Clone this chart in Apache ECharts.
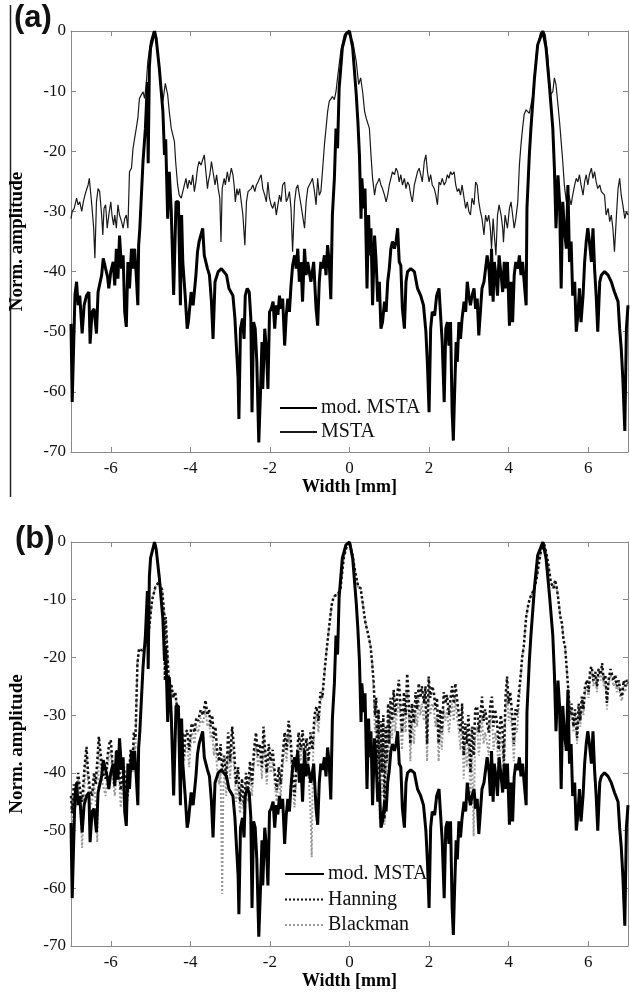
<!DOCTYPE html>
<html>
<head>
<meta charset="utf-8">
<script src="https://cdn.jsdelivr.net/npm/echarts@6/dist/echarts.min.js"></script>
<style>
  html, body { margin: 0; padding: 0; background: #fff; }
  #chart { width: 630px; height: 997px; }
</style>
</head>
<body>
<div id="chart"></div>
<script>
// ticks
const xTicks = [-6, -4, -2, 0, 2, 4, 6];
const yTicks = [-70, -60, -50, -40, -30, -20, -10, 0];

// mod. MSTA (same curve in both panels) [width mm, norm. amplitude dB]
const modMsta = [
  [-7.0,-48.7],[-6.97,-61.7],[-6.9,-43.9],[-6.86,-41.7],[-6.82,-45.6],[-6.78,-44],[-6.72,-50.3],[-6.67,-45.6],[-6.61,-44],[-6.55,-43.4],
  [-6.52,-52],[-6.47,-46.7],[-6.42,-46.2],[-6.36,-50.3],[-6.32,-43.4],[-6.23,-40.6],[-6.19,-37.8],[-6.13,-39.5],[-6.08,-40.9],[-6.05,-42.8],
  [-6.0,-40],[-5.94,-38.4],[-5.9,-42.3],[-5.86,-36.2],[-5.82,-41.2],[-5.78,-34],[-5.73,-39.5],[-5.69,-37.3],[-5.65,-46.7],[-5.61,-49.2],
  [-5.57,-38.4],[-5.53,-42.8],[-5.48,-36.2],[-5.44,-39.5],[-5.4,-36.2],[-5.36,-40.6],[-5.32,-45.6],[-5.3,-35.7],[-5.27,-32.8],[-5.19,-21.7],
  [-5.13,-16.2],[-5.08,-8.5],[-5.06,-22],[-5.03,-6],[-5.0,-2.8],[-4.9,0],[-4.86,-1.2],[-4.78,-6.2],[-4.69,-13.4],[-4.65,-20.6],
  [-4.62,-18],[-4.57,-31.2],[-4.53,-23.4],[-4.48,-30],[-4.42,-43.9],[-4.36,-28.4],[-4.3,-28.4],[-4.25,-45.6],[-4.22,-30.6],[-4.19,-38.4],
  [-4.13,-44],[-4.08,-49.5],[-4.05,-48.4],[-3.98,-43.4],[-3.93,-45.6],[-3.86,-40.6],[-3.82,-36.7],[-3.78,-35],[-3.69,-32.8],[-3.65,-37.3],
  [-3.57,-39.5],[-3.52,-40.6],[-3.47,-45],[-3.43,-51.2],[-3.38,-41.7],[-3.3,-40],[-3.22,-39.5],[-3.09,-40.6],[-3.03,-42.8],[-2.98,-43.4],
  [-2.93,-44],[-2.88,-47.8],[-2.84,-52.8],[-2.8,-57.8],[-2.78,-64.5],[-2.74,-49.5],[-2.69,-47.8],[-2.65,-51.2],[-2.62,-44],[-2.57,-42.8],
  [-2.52,-43.4],[-2.48,-47.8],[-2.45,-63.4],[-2.41,-48.4],[-2.37,-49.5],[-2.33,-55],[-2.28,-68.4],[-2.24,-60.6],[-2.2,-51.7],[-2.18,-59.5],
  [-2.13,-49.5],[-2.09,-52.8],[-2.05,-59.5],[-2.01,-46.7],[-1.97,-46.2],[-1.92,-45],[-1.88,-49.5],[-1.84,-45.6],[-1.8,-47.2],[-1.76,-44],
  [-1.72,-46.2],[-1.68,-44.5],[-1.63,-52.3],[-1.59,-47.3],[-1.55,-44.5],[-1.51,-46.7],[-1.47,-42.3],[-1.43,-39],[-1.38,-37.3],[-1.34,-39.5],
  [-1.3,-36.2],[-1.26,-41.7],[-1.22,-38.4],[-1.18,-45],[-1.13,-36.2],[-1.09,-40.6],[-1.05,-38.4],[-1.01,-38.4],[-0.97,-41.7],[-0.9,-38.4],
  [-0.84,-46.2],[-0.8,-49],[-0.76,-41.7],[-0.72,-38.4],[-0.68,-39.5],[-0.63,-37.3],[-0.59,-40.6],[-0.55,-35.6],[-0.51,-38.4],[-0.47,-44.6],
  [-0.43,-30.6],[-0.38,-24.5],[-0.34,-16.2],[-0.3,-19.5],[-0.26,-9.5],[-0.18,-2.8],[-0.09,-0.5],[0.0,0],[0.08,-2.8],[0.17,-10.6],
  [0.21,-15],[0.25,-20.6],[0.29,-31.2],[0.31,-24.5],[0.36,-29.5],[0.39,-26.2],[0.44,-42.8],[0.48,-30.6],[0.51,-37.3],[0.54,-32.8],
  [0.58,-45.6],[0.63,-34],[0.67,-38.4],[0.71,-45],[0.75,-41.7],[0.79,-49.5],[0.83,-48.4],[0.88,-45],[0.92,-46.7],[0.96,-41.7],
  [1.0,-39.5],[1.04,-36.2],[1.08,-35],[1.13,-36.2],[1.17,-35],[1.21,-32.8],[1.25,-38.4],[1.29,-39],[1.33,-46.2],[1.38,-49.5],
  [1.42,-41.7],[1.46,-40],[1.54,-39.5],[1.63,-40],[1.71,-42.8],[1.79,-44],[1.86,-45.6],[1.92,-50],[1.96,-55.6],[2.0,-63.4],
  [2.04,-49.5],[2.08,-46.7],[2.14,-47.3],[2.19,-44],[2.25,-42.8],[2.29,-47.3],[2.33,-51.7],[2.38,-61.7],[2.42,-49.5],[2.46,-48.4],
  [2.5,-52.3],[2.54,-48.4],[2.58,-63.4],[2.61,-68.1],[2.64,-60.6],[2.68,-51.7],[2.71,-55],[2.75,-48.4],[2.79,-51.2],[2.83,-47.8],
  [2.88,-45],[2.92,-46.7],[2.96,-41.7],[3.0,-44],[3.04,-45.6],[3.08,-44],[3.13,-42.8],[3.17,-46.2],[3.21,-44.5],[3.25,-50.6],
  [3.29,-46.7],[3.33,-42.8],[3.38,-41.7],[3.42,-39.5],[3.46,-37.3],[3.51,-40],[3.54,-44],[3.57,-36.2],[3.61,-45],[3.64,-38.4],
  [3.68,-40.6],[3.72,-44],[3.76,-37.3],[3.81,-40.6],[3.85,-43.4],[3.89,-38.4],[3.93,-42.8],[3.97,-38.4],[4.02,-49],[4.06,-41.7],
  [4.1,-48.4],[4.14,-40.6],[4.18,-38.4],[4.23,-39.5],[4.27,-37.3],[4.31,-40.6],[4.35,-38.4],[4.39,-41.7],[4.44,-45.6],[4.46,-29.5],
  [4.52,-20.6],[4.56,-16.2],[4.65,-7.8],[4.73,-2.3],[4.86,0],[4.94,-2.8],[5.03,-9.5],[5.11,-16.2],[5.15,-22.8],[5.19,-32.8],
  [5.24,-24],[5.28,-28.4],[5.32,-42.8],[5.36,-28.4],[5.4,-32.8],[5.45,-36.2],[5.49,-25.6],[5.53,-38.4],[5.57,-35],[5.61,-44],
  [5.66,-41.7],[5.7,-50],[5.74,-47.3],[5.78,-42.8],[5.82,-48.4],[5.87,-44],[5.91,-38.4],[5.95,-35],[5.99,-32.8],[6.03,-35],
  [6.08,-38.4],[6.12,-32.8],[6.16,-39.5],[6.2,-44],[6.24,-50],[6.29,-41.7],[6.33,-40.6],[6.41,-40],[6.5,-40.6],[6.58,-41.7],
  [6.66,-43.4],[6.75,-45],[6.79,-49.5],[6.83,-52.8],[6.87,-57.8],[6.92,-66.5],[6.96,-49.5],[7.0,-45.6]
];

// MSTA, panel (a)
const msta = [
  [-7.0,-31.2],[-6.97,-30],[-6.92,-29.5],[-6.86,-27.8],[-6.82,-28.9],[-6.78,-28.4],[-6.73,-30],[-6.69,-28.4],[-6.65,-27.3],[-6.61,-26.4],
  [-6.57,-25.6],[-6.54,-24.5],[-6.5,-27.3],[-6.47,-29.5],[-6.43,-32.8],[-6.4,-37.8],[-6.36,-28.4],[-6.32,-26.2],[-6.28,-26.7],[-6.23,-30.6],
  [-6.2,-33.9],[-6.17,-29.5],[-6.13,-28.9],[-6.09,-32.8],[-6.05,-30.6],[-6.0,-28.4],[-5.97,-30.6],[-5.93,-32.3],[-5.9,-30.6],[-5.86,-32.8],
  [-5.82,-28.9],[-5.78,-30.6],[-5.73,-31.7],[-5.69,-32.8],[-5.65,-31.2],[-5.61,-30.6],[-5.57,-32.8],[-5.53,-23.4],[-5.48,-22.8],[-5.44,-19.5],
  [-5.4,-17.8],[-5.36,-16.2],[-5.32,-14.5],[-5.28,-11.2],[-5.23,-10.9],[-5.19,-10.1],[-5.15,-11.2],[-5.11,-8.9],[-5.07,-5.1],[-5.0,-1.7],
  [-4.93,-0.1],[-4.88,-0.6],[-4.82,-3.9],[-4.75,-8.4],[-4.69,-11.7],[-4.63,-8.7],[-4.57,-10.6],[-4.53,-13.4],[-4.48,-16.2],[-4.44,-17.3],
  [-4.4,-18.4],[-4.37,-21.7],[-4.32,-25.6],[-4.28,-27.3],[-4.23,-27.8],[-4.19,-26.7],[-4.15,-25.6],[-4.11,-24.5],[-4.07,-26.2],[-4.03,-24.8],
  [-3.98,-25.6],[-3.94,-23.9],[-3.9,-26.7],[-3.86,-25.1],[-3.82,-22.8],[-3.78,-21.7],[-3.73,-22.3],[-3.69,-21.4],[-3.65,-20.6],[-3.61,-23.4],
  [-3.57,-26.2],[-3.55,-25.1],[-3.51,-23.9],[-3.47,-21.7],[-3.43,-23.4],[-3.38,-25.6],[-3.34,-23.9],[-3.3,-26.2],[-3.26,-27.8],[-3.23,-35.1],
  [-3.2,-26.2],[-3.15,-24.5],[-3.12,-25.6],[-3.07,-23.4],[-3.03,-25.1],[-3.0,-23.9],[-2.97,-22.8],[-2.93,-23.9],[-2.9,-25.6],[-2.87,-28.4],
  [-2.83,-26.2],[-2.8,-27.3],[-2.76,-26.2],[-2.72,-28.4],[-2.68,-30.6],[-2.63,-35.6],[-2.59,-28.4],[-2.55,-26.7],[-2.51,-26.7],[-2.47,-26.2],
  [-2.43,-25.6],[-2.38,-26.7],[-2.34,-25.6],[-2.3,-25.1],[-2.26,-24.5],[-2.22,-23.9],[-2.18,-26.2],[-2.13,-27.3],[-2.09,-28.4],[-2.05,-25.1],
  [-2.01,-27.8],[-1.97,-28.9],[-1.93,-29.5],[-1.88,-28.4],[-1.84,-30.6],[-1.8,-28.9],[-1.76,-27.3],[-1.72,-28.4],[-1.68,-25.6],[-1.63,-25.1],
  [-1.59,-28.4],[-1.55,-27.8],[-1.51,-26.7],[-1.47,-29.5],[-1.43,-36.7],[-1.38,-28.4],[-1.34,-26.2],[-1.3,-25.6],[-1.26,-27.3],[-1.22,-28.9],
  [-1.18,-30.6],[-1.13,-32.8],[-1.09,-28.4],[-1.05,-26.2],[-1.01,-25.6],[-0.97,-25.1],[-0.93,-24.5],[-0.88,-26.7],[-0.84,-28.9],[-0.8,-24.5],
  [-0.76,-27.3],[-0.72,-26.7],[-0.68,-23.4],[-0.63,-18.9],[-0.59,-16.2],[-0.55,-13.4],[-0.51,-11.7],[-0.47,-11.4],[-0.43,-10.9],[-0.38,-11.4],
  [-0.34,-10.1],[-0.3,-7.8],[-0.22,-3.4],[-0.13,-0.6],[-0.05,-0.1],[0.0,0],[0.08,-1.7],[0.17,-5.1],[0.23,-8.9],[0.28,-7.8],
  [0.33,-10.1],[0.38,-13.4],[0.42,-14.5],[0.46,-14.8],[0.5,-16.2],[0.54,-20.6],[0.58,-24.5],[0.63,-27.3],[0.67,-25.6],[0.71,-25.1],
  [0.75,-24.5],[0.79,-25.6],[0.83,-26.2],[0.88,-27.3],[0.92,-28.4],[0.96,-27.3],[1.0,-25.6],[1.04,-24.5],[1.08,-23.4],[1.13,-23.9],
  [1.17,-22.8],[1.21,-23.4],[1.25,-25.1],[1.29,-23.9],[1.33,-25.6],[1.38,-24.5],[1.42,-26.2],[1.46,-25.1],[1.5,-25.6],[1.54,-27.3],
  [1.58,-28.4],[1.63,-25.6],[1.67,-24.5],[1.71,-23.4],[1.75,-22.8],[1.79,-23.9],[1.83,-25.1],[1.88,-21.7],[1.92,-20.6],[1.96,-23.4],
  [2.0,-25.1],[2.04,-23.9],[2.08,-25.6],[2.13,-26.2],[2.17,-27.3],[2.21,-28.9],[2.25,-25.1],[2.29,-25.6],[2.33,-24.5],[2.38,-25.6],
  [2.42,-25.1],[2.46,-23.9],[2.5,-24.5],[2.54,-23.4],[2.58,-23.9],[2.63,-23.4],[2.67,-25.6],[2.71,-26.7],[2.75,-26.2],[2.79,-27.3],
  [2.83,-25.6],[2.88,-27.8],[2.92,-29.5],[2.96,-28.4],[3.0,-30],[3.04,-30.6],[3.08,-27.8],[3.13,-28.9],[3.17,-25.1],[3.21,-25.6],
  [3.25,-28.4],[3.29,-30],[3.33,-31.2],[3.38,-33.9],[3.42,-30.6],[3.46,-31.7],[3.5,-30.6],[3.54,-32.8],[3.57,-36.2],[3.61,-31.2],
  [3.64,-33.9],[3.68,-37.3],[3.72,-30.6],[3.76,-28.9],[3.81,-30.6],[3.85,-32.8],[3.87,-35.1],[3.91,-30.6],[3.94,-31.7],[3.97,-32.8],
  [4.02,-29.5],[4.06,-28.4],[4.1,-30.6],[4.14,-32.8],[4.18,-31.2],[4.23,-28.4],[4.27,-22.3],[4.31,-18.9],[4.35,-16.2],[4.39,-13.9],
  [4.44,-13.1],[4.48,-12.8],[4.52,-13.7],[4.56,-13.9],[4.61,-10.6],[4.65,-7.3],[4.71,-2.8],[4.8,-0.3],[4.86,0],[4.92,-0.6],
  [4.98,-3.9],[5.05,-10.6],[5.11,-10.1],[5.15,-7.8],[5.19,-8.9],[5.24,-12.3],[5.28,-15.1],[5.32,-18.4],[5.36,-21.7],[5.4,-25.6],
  [5.45,-28.4],[5.49,-26.7],[5.53,-27.8],[5.57,-28.9],[5.61,-27.3],[5.66,-25.6],[5.7,-24.5],[5.74,-25.1],[5.78,-23.9],[5.82,-25.6],
  [5.87,-27.3],[5.91,-25.1],[5.95,-23.9],[5.99,-25.6],[6.03,-23.9],[6.08,-22.8],[6.12,-24.5],[6.16,-23.4],[6.2,-25.1],[6.24,-26.2],
  [6.29,-25.6],[6.33,-26.7],[6.37,-26.7],[6.41,-27.3],[6.45,-30.6],[6.5,-29.5],[6.54,-31.7],[6.58,-30.6],[6.62,-32.8],[6.66,-36.7],
  [6.71,-30.6],[6.75,-26.2],[6.79,-24.5],[6.83,-27.3],[6.87,-28.9],[6.92,-31.2],[6.96,-30],[7.0,-30.6]
];

// Hanning, panel (b)
const hanning = [
  [-7.0,-44],[-6.97,-47],[-6.93,-42],[-6.88,-44],[-6.82,-40],[-6.77,-43],[-6.72,-45],[-6.66,-39],[-6.61,-35.5],[-6.57,-40],
  [-6.52,-43],[-6.47,-44],[-6.42,-40],[-6.38,-42],[-6.34,-38],[-6.3,-33.7],[-6.25,-37],[-6.2,-40],[-6.13,-41],[-6.08,-37],
  [-6.04,-35],[-6.0,-34.3],[-5.95,-39],[-5.9,-41],[-5.84,-36],[-5.79,-39],[-5.75,-43],[-5.7,-40],[-5.67,-39],[-5.62,-42],
  [-5.58,-44],[-5.54,-40],[-5.5,-36],[-5.45,-38],[-5.42,-33],[-5.38,-34],[-5.33,-21],[-5.29,-18.5],[-5.22,-18.8],[-5.15,-18.2],
  [-5.08,-17.5],[-5.04,-15.2],[-4.96,-10],[-4.88,-7.8],[-4.79,-6.9],[-4.71,-8.3],[-4.66,-12.3],[-4.64,-24],[-4.62,-13],[-4.58,-13],
  [-4.55,-23],[-4.51,-24.5],[-4.47,-25],[-4.43,-27],[-4.38,-26],[-4.33,-29],[-4.28,-31],[-4.24,-35],[-4.2,-33],[-4.16,-37],
  [-4.12,-33],[-4.08,-32.6],[-4.03,-36],[-3.98,-32],[-3.95,-31.4],[-3.9,-33],[-3.85,-30.5],[-3.8,-31],[-3.74,-29.1],[-3.68,-30],
  [-3.62,-27.4],[-3.57,-30],[-3.53,-29],[-3.49,-32],[-3.45,-30],[-3.41,-34],[-3.37,-32],[-3.33,-36],[-3.28,-38],[-3.24,-35],
  [-3.2,-40],[-3.15,-37],[-3.1,-41],[-3.05,-33],[-3.0,-38],[-2.95,-32],[-2.9,-36],[-2.85,-42],[-2.8,-39],[-2.75,-45],
  [-2.7,-41],[-2.65,-46],[-2.6,-40],[-2.55,-43],[-2.5,-38],[-2.45,-42],[-2.4,-36],[-2.35,-33],[-2.3,-37],[-2.25,-35],
  [-2.2,-39],[-2.16,-32],[-2.12,-36],[-2.08,-40],[-2.03,-35],[-1.98,-38],[-1.93,-36],[-1.88,-40],[-1.83,-43],[-1.78,-39],
  [-1.73,-42],[-1.68,-37],[-1.63,-33],[-1.58,-36],[-1.53,-31],[-1.48,-34],[-1.43,-40],[-1.38,-44],[-1.33,-38],[-1.28,-33],
  [-1.23,-36],[-1.18,-32.6],[-1.13,-37],[-1.08,-34],[-1.03,-38],[-0.98,-33],[-0.93,-36],[-0.88,-30],[-0.83,-28.5],[-0.78,-31],
  [-0.73,-26],[-0.68,-27],[-0.64,-23.3],[-0.58,-19],[-0.52,-15.2],[-0.45,-11],[-0.4,-9.5],[-0.35,-9.5],[-0.3,-9],[-0.23,-8.3],
  [-0.18,-5],[-0.14,-2.5],[-0.06,-0.5],[0.0,0],[0.08,-2.5],[0.15,-5.4],[0.22,-7.8],[0.28,-8],[0.34,-11],[0.4,-14],
  [0.47,-16],[0.53,-18.1],[0.57,-21],[0.61,-24.5],[0.64,-30],[0.67,-27],[0.7,-38],[0.73,-29],[0.76,-45],[0.79,-31],
  [0.82,-40],[0.85,-30],[0.88,-48],[0.91,-32],[0.94,-38],[0.97,-28],[1.0,-35],[1.03,-27],[1.07,-31],[1.11,-25.6],
  [1.15,-30],[1.19,-27],[1.24,-23.9],[1.28,-28],[1.32,-33],[1.37,-26],[1.41,-30],[1.45,-22.8],[1.49,-27],[1.53,-35],
  [1.57,-28],[1.62,-31.4],[1.66,-26],[1.7,-29],[1.74,-24.5],[1.78,-27],[1.82,-25],[1.87,-28],[1.91,-25],[1.95,-35],
  [1.99,-23.3],[2.03,-27],[2.08,-25],[2.12,-26],[2.16,-29],[2.2,-27],[2.24,-34.9],[2.28,-29],[2.32,-33],[2.37,-26],
  [2.41,-28],[2.45,-26.5],[2.5,-30],[2.54,-27],[2.58,-25],[2.62,-28],[2.66,-24.5],[2.7,-27],[2.75,-30],[2.79,-33],
  [2.83,-28],[2.87,-37],[2.91,-31.4],[2.95,-35],[2.99,-30],[3.04,-40],[3.08,-32],[3.12,-37],[3.16,-29],[3.21,-28.5],
  [3.25,-33],[3.29,-30],[3.33,-26.8],[3.37,-31],[3.41,-29],[3.46,-31.4],[3.5,-33],[3.54,-28],[3.58,-26.8],[3.62,-32],
  [3.66,-29],[3.71,-31.4],[3.75,-36],[3.8,-30],[3.84,-31.8],[3.88,-38],[3.92,-27],[3.96,-23.3],[4.0,-28],[4.04,-26],
  [4.09,-30],[4.13,-35],[4.17,-29],[4.21,-30],[4.26,-26],[4.3,-23.3],[4.34,-20],[4.38,-18.1],[4.44,-13],[4.5,-10.6],
  [4.55,-9.5],[4.59,-9.5],[4.65,-8],[4.71,-6],[4.8,-2],[4.88,0],[4.95,-2],[5.0,-4],[5.06,-7],[5.13,-8],
  [5.17,-6.6],[5.21,-8],[5.25,-10],[5.3,-13],[5.34,-14.1],[5.38,-17],[5.42,-18.2],[5.46,-22],[5.5,-25.6],[5.54,-30],
  [5.58,-28],[5.63,-32],[5.67,-29],[5.72,-34],[5.76,-28],[5.8,-31],[5.84,-26.8],[5.88,-29],[5.92,-25],[5.97,-23.9],
  [6.01,-26],[6.05,-22],[6.09,-21.6],[6.13,-24],[6.18,-22.5],[6.22,-25],[6.26,-22],[6.31,-23],[6.35,-21],[6.39,-24],
  [6.43,-23],[6.47,-27.9],[6.51,-24],[6.56,-22],[6.6,-22.2],[6.64,-24],[6.68,-23],[6.72,-25],[6.77,-24],[6.81,-26],
  [6.85,-26.8],[6.89,-24],[6.93,-25],[6.97,-23.9],[7.0,-24.5]
];

// Blackman, panel (b)
const blackman = [
  [-7.0,-46],[-6.97,-49],[-6.93,-44],[-6.88,-46],[-6.82,-41],[-6.77,-45],[-6.72,-53],[-6.66,-42],[-6.61,-37],[-6.57,-42],
  [-6.52,-46],[-6.47,-45],[-6.42,-42],[-6.38,-45],[-6.34,-52],[-6.3,-36],[-6.25,-39],[-6.2,-42],[-6.13,-44],[-6.08,-39],
  [-6.04,-37],[-6.0,-36],[-5.95,-41],[-5.9,-44],[-5.84,-38],[-5.79,-41],[-5.75,-46],[-5.7,-42],[-5.67,-41],[-5.62,-44],
  [-5.6,-46],[-5.54,-42],[-5.5,-38],[-5.45,-40],[-5.42,-35],[-5.38,-36],[-5.33,-21],[-5.29,-18.5],[-5.22,-18.8],[-5.15,-18.2],
  [-5.08,-17.5],[-5.04,-15.2],[-4.96,-10],[-4.88,-7.8],[-4.79,-6.9],[-4.71,-8.3],[-4.66,-12.3],[-4.62,-13],[-4.58,-13],[-4.55,-23],
  [-4.51,-24.5],[-4.47,-25],[-4.43,-27],[-4.38,-26],[-4.33,-29],[-4.28,-31],[-4.24,-35],[-4.2,-33],[-4.16,-38],[-4.12,-36],
  [-4.08,-35],[-4.03,-39],[-3.98,-34],[-3.95,-33],[-3.9,-35],[-3.85,-32],[-3.8,-33],[-3.74,-30.5],[-3.68,-31.5],[-3.62,-29],
  [-3.57,-32],[-3.53,-31],[-3.49,-34],[-3.45,-33],[-3.41,-37],[-3.37,-35],[-3.33,-39],[-3.28,-42],[-3.24,-40],[-3.2,-61],
  [-3.17,-42],[-3.13,-40],[-3.1,-44],[-3.05,-36],[-3.0,-41],[-2.95,-35],[-2.9,-39],[-2.85,-45],[-2.8,-42],[-2.75,-47],
  [-2.7,-43],[-2.65,-48],[-2.6,-42],[-2.55,-45],[-2.5,-40],[-2.45,-44],[-2.4,-38],[-2.35,-35],[-2.3,-39],[-2.25,-37],
  [-2.2,-41],[-2.16,-34],[-2.12,-38],[-2.08,-42],[-2.03,-37],[-1.98,-40],[-1.93,-38],[-1.88,-42],[-1.83,-45],[-1.78,-41],
  [-1.73,-44],[-1.68,-39],[-1.63,-35],[-1.58,-38],[-1.53,-33],[-1.48,-36],[-1.43,-42],[-1.38,-46],[-1.33,-40],[-1.28,-35],
  [-1.23,-38],[-1.18,-35],[-1.13,-39],[-1.08,-36],[-1.03,-40],[-0.98,-47],[-0.95,-54.6],[-0.92,-38],[-0.88,-32],[-0.83,-30],
  [-0.78,-33],[-0.73,-28],[-0.68,-28],[-0.64,-24],[-0.58,-19],[-0.52,-15.2],[-0.45,-11],[-0.4,-9.5],[-0.35,-9.5],[-0.3,-9],
  [-0.23,-8.3],[-0.18,-5],[-0.14,-2.5],[-0.06,-0.5],[0.0,0],[0.08,-2.5],[0.15,-5.4],[0.22,-7.8],[0.28,-8],[0.34,-11],
  [0.4,-14],[0.47,-16],[0.53,-18.1],[0.57,-21],[0.61,-26],[0.64,-33],[0.67,-30],[0.7,-42],[0.73,-32],[0.76,-48],
  [0.79,-35],[0.82,-44],[0.85,-34],[0.88,-49],[0.91,-36],[0.94,-42],[0.97,-31],[1.0,-38],[1.03,-30],[1.07,-34],
  [1.11,-28],[1.15,-33],[1.19,-30],[1.24,-27],[1.28,-31],[1.32,-36],[1.37,-29],[1.41,-33],[1.45,-26],[1.49,-30],
  [1.53,-38],[1.57,-31],[1.62,-35],[1.66,-29],[1.7,-32],[1.74,-27],[1.78,-30],[1.82,-28],[1.87,-31],[1.91,-28],
  [1.95,-38],[1.99,-26],[2.03,-30],[2.08,-28],[2.12,-29],[2.16,-32],[2.2,-30],[2.24,-38],[2.28,-32],[2.32,-36],
  [2.37,-29],[2.41,-31],[2.45,-29],[2.5,-33],[2.54,-30],[2.58,-28],[2.62,-31],[2.66,-27],[2.7,-30],[2.75,-33],
  [2.79,-36],[2.83,-31],[2.87,-41],[2.91,-35],[2.95,-39],[2.99,-34],[3.04,-44],[3.08,-36],[3.12,-51],[3.16,-33],
  [3.21,-32],[3.25,-37],[3.29,-34],[3.33,-30],[3.37,-35],[3.41,-33],[3.46,-35],[3.5,-37],[3.54,-31],[3.58,-30],
  [3.62,-36],[3.66,-33],[3.71,-35],[3.75,-40],[3.8,-34],[3.84,-35],[3.88,-42],[3.92,-30],[3.96,-26],[4.0,-31],
  [4.04,-29],[4.09,-33],[4.13,-38],[4.17,-32],[4.21,-33],[4.26,-28],[4.3,-24],[4.34,-20],[4.38,-18.1],[4.44,-13],
  [4.5,-10.6],[4.55,-9.5],[4.59,-9.5],[4.65,-8],[4.71,-6],[4.8,-2],[4.88,0],[4.95,-2],[5.0,-4],[5.06,-7],
  [5.13,-8],[5.17,-6.6],[5.21,-8],[5.25,-10],[5.3,-13],[5.34,-14.1],[5.38,-17],[5.42,-18.2],[5.46,-22],[5.5,-26],
  [5.54,-31],[5.58,-29],[5.63,-33],[5.67,-30],[5.72,-35],[5.76,-29],[5.8,-32],[5.84,-28],[5.88,-30],[5.92,-26],
  [5.97,-25],[6.01,-27],[6.05,-23],[6.09,-22.5],[6.13,-25],[6.18,-23.5],[6.22,-26],[6.26,-23],[6.31,-24],[6.35,-22],
  [6.39,-25],[6.43,-24],[6.47,-29],[6.51,-25],[6.56,-23],[6.6,-23],[6.64,-25],[6.68,-24],[6.72,-26],[6.77,-25],
  [6.81,-27],[6.85,-27.5],[6.89,-25],[6.93,-26],[6.97,-24.5],[7.0,-25]
];

const serif = '"Liberation Serif", "DejaVu Serif", serif';
const frameColor = '#8a8a8a';

function xAxisFor(gridIndex, pos) {
    const bottom = pos === 'bottom';
    return {
        type: 'value',
        gridIndex: gridIndex,
        position: pos,
        min: -7,
        max: 7,
        name: bottom ? 'Width [mm]' : '',
        nameLocation: 'middle',
        nameGap: 21,
        nameTextStyle: { fontFamily: serif, fontWeight: 'bold', fontSize: 18, color: '#000' },
        axisLine: { show: true, onZero: false, lineStyle: { color: frameColor, width: 1 } },
        axisTick: { show: true, inside: true, length: 5, customValues: xTicks, lineStyle: { color: frameColor } },
        axisLabel: {
            show: bottom,
            customValues: xTicks,
            margin: 8,
            fontFamily: serif,
            fontSize: 17,
            color: '#111',
        },
        splitLine: { show: false },
    };
}

function yAxisFor(gridIndex, pos) {
    const left = pos === 'left';
    return {
        type: 'value',
        gridIndex: gridIndex,
        position: pos,
        min: yTicks[0],
        max: yTicks[yTicks.length - 1],
        interval: 10,
        name: left ? 'Norm. amplitude' : '',
        nameLocation: 'middle',
        nameGap: 44,
        nameTextStyle: { fontFamily: serif, fontWeight: 'bold', fontSize: 19, color: '#000' },
        axisLine: { show: true, onZero: false, lineStyle: { color: frameColor, width: 1 } },
        axisTick: { show: true, inside: true, length: 5, lineStyle: { color: frameColor } },
        axisLabel: {
            show: left,
            margin: 5,
            fontFamily: serif,
            fontSize: 17,
            color: '#111',
        },
        splitLine: { show: false },
    };
}

function lineSeries(name, data, gridIdx, style) {
    return {
        name: name,
        type: 'line',
        data: data,
        xAxisIndex: gridIdx * 2,
        yAxisIndex: gridIdx * 2,
        symbol: 'none',
        showSymbol: false,
        smooth: false,
        lineStyle: style,
        itemStyle: { color: style.color },
        z: style.z || 2,
    };
}

// legend: line only, no marker
const legendBase = {
    orient: 'vertical',
    padding: 0,
    itemHeight: 12,
    itemStyle: { color: 'transparent', borderColor: 'transparent', borderWidth: 0, opacity: 0 },
    textStyle: { fontFamily: serif, fontSize: 20, color: '#111', padding: [0, 0, 0, -1] },
    selectedMode: false,
};

const option = {
    animation: false,
    backgroundColor: '#fff',
    grid: [
        { left: 71, top: 31, width: 557, height: 421, show: false, outerBoundsMode: 'none' },
        { left: 71, top: 542, width: 557, height: 404, show: false, outerBoundsMode: 'none' },
    ],
    xAxis: [xAxisFor(0, 'bottom'), xAxisFor(0, 'top'), xAxisFor(1, 'bottom'), xAxisFor(1, 'top')],
    yAxis: [yAxisFor(0, 'left'), yAxisFor(0, 'right'), yAxisFor(1, 'left'), yAxisFor(1, 'right')],
    legend: [
        Object.assign({}, legendBase, {
            data: ['mod. MSTA', 'MSTA'],
            left: 279,
            top: 398,
            itemWidth: 37,
            itemGap: 4,
        }),
        Object.assign({}, legendBase, {
            data: ['mod. MSTA', 'Hanning', 'Blackman'],
            left: 284,
            top: 864,
            itemWidth: 39,
            itemGap: 5.5,
        }),
    ],
    series: [
        lineSeries('MSTA', msta, 0, { color: '#1a1a1a', width: 1.2 }),
        lineSeries('mod. MSTA', modMsta, 0, { color: '#000', width: 3, z: 3 }),
        lineSeries('Blackman', blackman, 1, { color: '#9a9a9a', width: 2, type: 'dotted' }),
        lineSeries('Hanning', hanning, 1, { color: '#111', width: 2.5, type: 'dotted', z: 3 }),
        lineSeries('mod. MSTA', modMsta, 1, { color: '#000', width: 3, z: 4 }),
    ],
    graphic: [
        { type: 'text', left: 14, top: 3, style: { text: '(a)', font: 'bold 31px "Liberation Sans", Arial, sans-serif', fill: '#111' } },
        { type: 'text', left: 15, top: 524, style: { text: '(b)', font: 'bold 31px "Liberation Sans", Arial, sans-serif', fill: '#111' } },
        { type: 'line', shape: { x1: 10.5, y1: 5, x2: 10.5, y2: 497 }, style: { stroke: '#222', lineWidth: 1.5 } },
    ],
};

const myChart = echarts.init(document.getElementById('chart'), null, { renderer: 'canvas' });
myChart.clear();
myChart.setOption(option);
</script>
</body>
</html>
